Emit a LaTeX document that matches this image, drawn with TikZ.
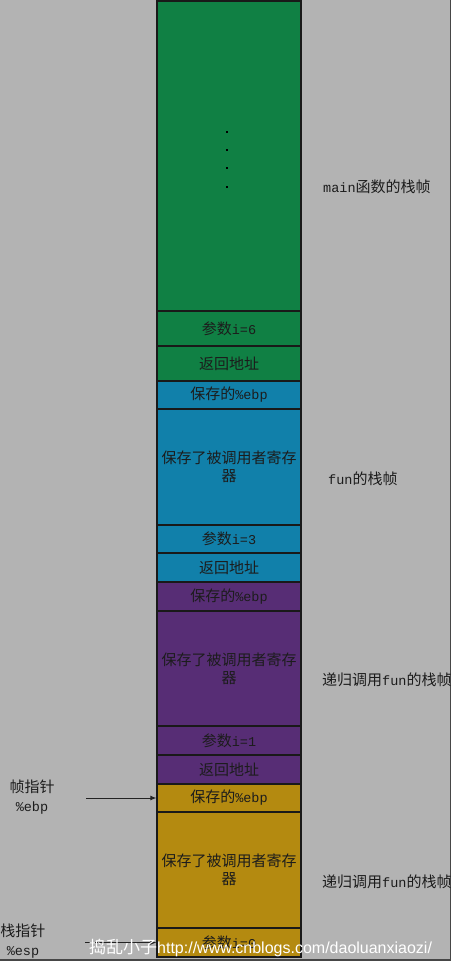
\documentclass[tikz,border=0pt]{standalone}
\usepackage{fontspec}
\setmainfont{Noto Sans CJK SC}
\setmonofont{Liberation Mono}
\newfontfamily\urlfont{Liberation Sans}
\usetikzlibrary{arrows.meta}
\definecolor{bggray}{RGB}{179,179,179}
\definecolor{framec}{RGB}{70,70,70}
\definecolor{cgreen}{RGB}{16,128,68}
\definecolor{cblue}{RGB}{17,128,170}
\definecolor{cpurple}{RGB}{87,45,117}
\definecolor{cgold}{RGB}{180,138,16}
\definecolor{txt}{RGB}{28,28,28}
\definecolor{arrowc}{RGB}{35,35,35}
\newcommand\lt[1]{{\fontsize{13.5pt}{18pt}\ttfamily #1}}
\begin{document}
\begin{tikzpicture}[x=1pt,y=-1pt,
  cell/.style={draw=black!90, line width=1.2pt, minimum width=144pt, inner sep=0pt,
    align=center, text=txt, font=\fontsize{15pt}{18pt}\selectfont},
  side/.style={anchor=west, inner sep=0pt, text=txt, font=\fontsize{15pt}{18pt}\selectfont},
  lbl/.style={align=center, inner sep=0pt, text=txt, font=\fontsize{15pt}{19pt}\selectfont},
  ptr/.style={draw=arrowc, line width=1pt, -{Latex[length=6pt,width=5pt]}},
  dotm/.style={fill=black, minimum size=1.8pt, inner sep=0pt, shape=rectangle}]
\fill[white] (0,0) rectangle (455,964);
\useasboundingbox (0,0) rectangle (455,964);
\fill[bggray] (0,0) rectangle (451,960);
\draw[framec, line width=1.5pt] (450.5,0) -- (450.5,960) -- (0,960);

% main frame
\node[cell, fill=cgreen, minimum height=310pt] (g0) at (229,156) {};
\node[cell, fill=cgreen, minimum height=35pt] (g1) at (229,328.5) {参数\lt{i=6}};
\node[cell, fill=cgreen, minimum height=35pt] (g2) at (229,363.5) {返回地址};
\node[dotm] (d1) at (227,132) {};
\node[dotm] (d2) at (227,150) {};
\node[dotm] (d3) at (227,168) {};
\node[dotm] (d4) at (227,187) {};

% fun frame
\node[cell, fill=cblue, minimum height=28pt] (b0) at (229,395) {保存的\lt{\%ebp}};
\node[cell, fill=cblue, minimum height=116pt] (b1) at (229,467) {保存了被调用者寄存\\器};
\node[cell, fill=cblue, minimum height=28pt] (b2) at (229,539) {参数\lt{i=3}};
\node[cell, fill=cblue, minimum height=29pt] (b3) at (229,567.5) {返回地址};

% recursive frame 1
\node[cell, fill=cpurple, minimum height=29pt] (p0) at (229,596.5) {保存的\lt{\%ebp}};
\node[cell, fill=cpurple, minimum height=115pt] (p1) at (229,668.5) {保存了被调用者寄存\\器};
\node[cell, fill=cpurple, minimum height=29pt] (p2) at (229,740.5) {参数\lt{i=1}};
\node[cell, fill=cpurple, minimum height=29pt] (p3) at (229,769.5) {返回地址};

% recursive frame 2
\node[cell, fill=cgold, minimum height=28pt] (y0) at (229,798) {保存的\lt{\%ebp}};
\node[cell, fill=cgold, minimum height=116pt] (y1) at (229,870) {保存了被调用者寄存\\器};
\node[cell, fill=cgold, minimum height=29pt] (y2) at (229,942.5) {参数\lt{i=0}};

% right labels
\node[side] (lmain) at (323,187) {\lt{main}函数的栈帧};
\node[side] (lfun) at (328,479) {\lt{fun}的栈帧};
\node[side] (lrec1) at (322,680) {递归调用\lt{fun}的栈帧};
\node[side] (lrec2) at (322,882) {递归调用\lt{fun}的栈帧};

% left pointers
\node[lbl] (fp) at (32,797) {帧指针\\\lt{\%ebp}};
\node[lbl] (sp) at (23,941) {栈指针\\\lt{\%esp}};
\coordinate (fpstart) at (86,798);
\coordinate (spstart) at (85,942.5);
\draw[ptr] (fpstart) -- (y0.west);
\draw[ptr] (spstart) -- (y2.west);

% watermark
\node[anchor=west, inner sep=0pt, text=white] (wm) at (89,948)
  {{\fontsize{17pt}{17pt}\selectfont 捣乱小子}{\urlfont\fontsize{16pt}{16pt}\selectfont http://www.cnblogs.com/daoluanxiaozi/}};
\end{tikzpicture}
\end{document}
